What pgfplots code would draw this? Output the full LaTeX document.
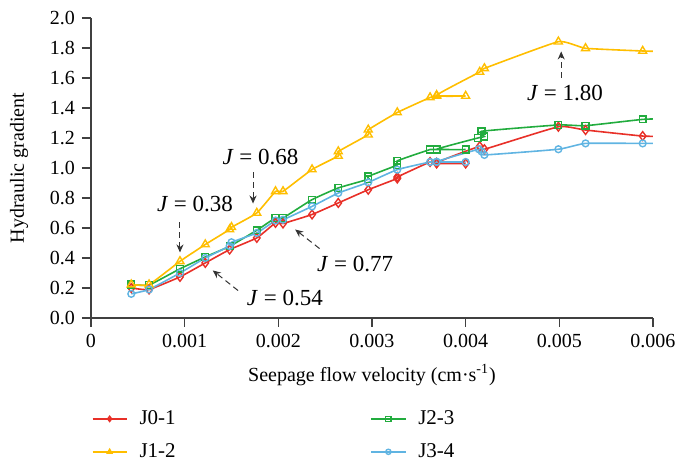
\documentclass[border=0pt]{standalone}
\usepackage{fontspec}
\setmainfont{Liberation Serif}
\usepackage{pgfplots}
\pgfplotsset{compat=1.18}
\usetikzlibrary{arrows.meta}

\definecolor{cred}{RGB}{232,48,40}
\definecolor{cyel}{RGB}{255,190,0}
\definecolor{cgrn}{RGB}{34,172,62}
\definecolor{cblu}{RGB}{96,180,226}

\begin{document}
\begin{tikzpicture}
\begin{axis}[
  scale only axis,
  width=281pt, height=150pt,
  xmin=0, xmax=0.006, ymin=0, ymax=2.0,
  axis x line=bottom, axis y line=left,
  axis line style={-, line width=0.6pt, black!75},
  tick align=outside, major tick length=4.5pt,
  tick style={line width=0.6pt, black!75},
  xtick={0,0.001,0.002,0.003,0.004,0.005,0.006},
  xticklabels={0,0.001,0.002,0.003,0.004,0.005,0.006},
  scaled x ticks=false,
  ytick={0,0.2,0.4,0.6,0.8,1.0,1.2,1.4,1.6,1.8,2.0},
  yticklabel style={/pgf/number format/.cd, fixed, fixed zerofill, precision=1},
  /pgf/number format/assume math mode=true,
  ticklabel style={font=\fontsize{10}{12}\selectfont},
  xlabel={Seepage flow velocity (cm·s\textsuperscript{-1})},
  ylabel={Hydraulic gradient},
  label style={font=\fontsize{10.5}{12}\selectfont},
  every axis x label/.style={at={(axis description cs:0.5,-0.19)}, anchor=center},
  every axis y label/.style={at={(axis description cs:-0.128,0.5)}, rotate=90, anchor=center},
  legend columns=2,
  legend cell align=left,
  legend style={draw=none, fill=none, at={(axis description cs:-0.01,-0.28)}, anchor=north west,
    font=\fontsize{10.5}{12}\selectfont, row sep=4pt},
  legend image post style={mark size=1.3pt},
  every axis plot/.append style={line width=0.8pt, smooth, tension=0.25},
]
\addplot[cred, mark=diamond, mark size=2.2pt, mark options={fill=white, solid, line width=0.7pt}] coordinates {
 (0.00043,0.200) (0.00062,0.190) (0.00095,0.274) (0.00122,0.367) (0.00148,0.456)
 (0.00177,0.534) (0.00197,0.634) (0.00205,0.630) (0.00236,0.690) (0.00264,0.767)
 (0.00296,0.855) (0.00327,0.930) (0.00327,0.940) (0.00362,1.040) (0.00369,1.030)
 (0.00400,1.030) (0.00369,1.035) (0.00415,1.145) (0.00420,1.125) (0.00499,1.275)
 (0.00528,1.253) (0.00589,1.213) (0.00620,1.210)};
\addlegendentry{\makebox[117.5pt][l]{\hspace{4pt}J0-1}}
\addplot[cgrn, mark=square, mark size=1.7pt, mark options={fill=white, solid, line width=0.7pt}] coordinates {
 (0.00043,0.223) (0.00062,0.220) (0.00095,0.328) (0.00122,0.407) (0.00148,0.478)
 (0.00177,0.585) (0.00197,0.667) (0.00205,0.667) (0.00236,0.789) (0.00264,0.867)
 (0.00296,0.925) (0.00296,0.944) (0.00327,1.020) (0.00327,1.048) (0.00362,1.123)
 (0.00369,1.123) (0.00400,1.123) (0.00369,1.125) (0.00413,1.200) (0.00420,1.210)
 (0.00417,1.245) (0.00499,1.287) (0.00528,1.282) (0.00589,1.324) (0.00620,1.330)};
\addlegendentry{\hspace{4pt}J2-3}
\addplot[cyel, mark=triangle, mark size=2.3pt, mark options={fill=white, solid, line width=0.7pt}] coordinates {
 (0.00043,0.223) (0.00062,0.223) (0.00095,0.378) (0.00122,0.490) (0.00148,0.590)
 (0.00150,0.605) (0.00177,0.700) (0.00197,0.844) (0.00205,0.844) (0.00236,0.990)
 (0.00264,1.080) (0.00264,1.110) (0.00296,1.222) (0.00296,1.255) (0.00327,1.370)
 (0.00362,1.470) (0.00369,1.480) (0.00400,1.480) (0.00369,1.485) (0.00415,1.640)
 (0.00420,1.664) (0.00499,1.842) (0.00528,1.798) (0.00589,1.780) (0.00620,1.775)};
\addlegendentry{\makebox[117.5pt][l]{\hspace{4pt}J1-2}}
\addplot[cblu, mark=o, mark size=1.7pt, mark options={fill=white, solid, line width=0.7pt}] coordinates {
 (0.00043,0.161) (0.00062,0.190) (0.00095,0.300) (0.00122,0.400) (0.00148,0.480)
 (0.00150,0.505) (0.00177,0.567) (0.00197,0.650) (0.00205,0.655) (0.00236,0.744)
 (0.00264,0.833) (0.00296,0.904) (0.00327,0.989) (0.00362,1.040) (0.00369,1.040)
 (0.00400,1.040) (0.00369,1.042) (0.00414,1.125) (0.00417,1.110) (0.00420,1.087)
 (0.00499,1.125) (0.00528,1.164) (0.00589,1.164) (0.00620,1.164)};
\addlegendentry{\hspace{4pt}J3-4}

\begin{scope}[every node/.style={font=\fontsize{11.5}{13}\selectfont}]
\node at (axis cs:0.00111,0.757) {\textit{J} = 0.38};
\node at (axis cs:0.00181,1.070) {\textit{J} = 0.68};
\node at (axis cs:0.00207,0.130) {\textit{J} = 0.54};
\node at (axis cs:0.00282,0.357) {\textit{J} = 0.77};
\node at (axis cs:0.00506,1.497) {\textit{J} = 1.80};
\end{scope}
\begin{scope}[densely dashed, line width=0.5pt, black!80, -{Stealth[length=4pt,width=3.5pt]}]
\draw (axis cs:0.00095,0.637) -- (axis cs:0.00095,0.437);
\draw (axis cs:0.00173,0.970) -- (axis cs:0.00173,0.763);
\draw (axis cs:0.00157,0.183) -- (axis cs:0.00130,0.317);
\draw (axis cs:0.00244,0.463) -- (axis cs:0.00218,0.590);
\draw (axis cs:0.00502,1.603) -- (axis cs:0.00502,1.777);
\end{scope}
\end{axis}
\pgfresetboundingbox
\path[use as bounding box] (-45.5pt,-73pt) rectangle (292pt,159pt);
\end{tikzpicture}
\end{document}
